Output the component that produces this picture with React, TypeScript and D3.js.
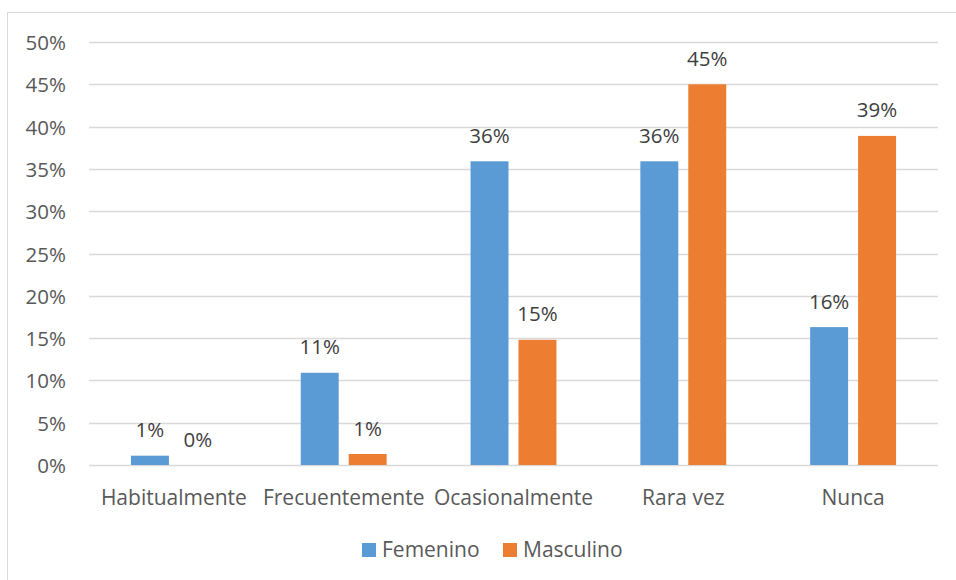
import { useEffect, useRef } from "react"
import * as d3 from "d3"

const categories = ["Habitualmente", "Frecuentemente", "Ocasionalmente", "Rara vez", "Nunca"]
const seriesNames = ["Femenino", "Masculino"]
const femenino = [1.1, 10.9, 35.9, 35.9, 16.3]
const masculino = [0, 1.3, 14.8, 45.0, 38.9]
const yTicks = [0, 5, 10, 15, 20, 25, 30, 35, 40, 45, 50]
const colors = ["#5B9BD5", "#ED7D31"]

export default function App() {
  const svgRef = useRef<SVGSVGElement>(null)

  useEffect(() => {
    if (!svgRef.current) return
    const svg = d3.select(svgRef.current)
    svg.selectAll("*").remove()

    const width = 956
    const height = 580
    const plot = { left: 89, right: 938, top: 42, bottom: 465 }
    const font = "'Open Sans', sans-serif"

    // outer frame
    svg
      .append("rect")
      .attr("x", 7.5)
      .attr("y", 12.5)
      .attr("width", width)
      .attr("height", height)
      .attr("fill", "#fff")
      .attr("stroke", "#d9d9d9")
      .attr("stroke-width", 1)

    const x0 = d3.scaleBand().domain(categories).range([plot.left, plot.right])
    const x1 = d3
      .scaleBand()
      .domain(seriesNames)
      .range([0, x0.bandwidth()])
      .paddingInner(10 / 48)
      .paddingOuter(0.875)
    const y = d3.scaleLinear().domain([0, 50]).range([plot.bottom, plot.top])

    // grid lines
    svg
      .append("g")
      .selectAll("line")
      .data(yTicks)
      .enter()
      .append("line")
      .attr("x1", plot.left)
      .attr("x2", plot.right)
      .attr("y1", (d) => Math.round(y(d)) + 0.5)
      .attr("y2", (d) => Math.round(y(d)) + 0.5)
      .attr("stroke", "#d9d9d9")
      .attr("stroke-width", 1.3)

    // y labels
    svg
      .append("g")
      .selectAll("text")
      .data(yTicks)
      .enter()
      .append("text")
      .attr("x", 66)
      .attr("y", (d) => y(d) + 8)
      .attr("text-anchor", "end")
      .attr("font-family", font)
      .attr("font-size", 20.5)
      .attr("fill", "#595959")
      .text((d) => `${d}%`)

    // bars
    const rows = categories.map((c, i) => ({
      category: c,
      values: [
        { series: seriesNames[0], value: femenino[i] },
        { series: seriesNames[1], value: masculino[i] },
      ],
    }))

    const groups = svg
      .append("g")
      .selectAll("g")
      .data(rows)
      .enter()
      .append("g")
      .attr("transform", (d) => `translate(${x0(d.category)},0)`)

    groups
      .selectAll("rect")
      .data((d) => d.values)
      .enter()
      .append("rect")
      .attr("x", (d) => x1(d.series) || 0)
      .attr("width", x1.bandwidth())
      .attr("y", (d) => y(d.value))
      .attr("height", (d) => plot.bottom - y(d.value))
      .attr("fill", (_, i) => colors[i])

    groups
      .selectAll("text")
      .data((d) => d.values)
      .enter()
      .append("text")
      .attr("x", (d) => (x1(d.series) || 0) + x1.bandwidth() / 2)
      .attr("y", (d) => y(d.value) - 18.5)
      .attr("text-anchor", "middle")
      .attr("font-family", font)
      .attr("font-size", 20.5)
      .attr("fill", "#404040")
      .text((d) => `${Math.round(d.value)}%`)

    // x labels
    svg
      .append("g")
      .selectAll("text")
      .data(categories)
      .enter()
      .append("text")
      .attr("x", (d) => (x0(d) || 0) + x0.bandwidth() / 2)
      .attr("y", 505)
      .attr("text-anchor", "middle")
      .attr("font-family", font)
      .attr("font-size", 21)
      .attr("fill", "#595959")
      .text((d) => d)

    // legend
    const legendX = [362, 503]
    const legend = svg
      .append("g")
      .selectAll("g")
      .data(seriesNames)
      .enter()
      .append("g")
      .attr("transform", (_, i) => `translate(${legendX[i]},543)`)
    legend
      .append("rect")
      .attr("width", 14)
      .attr("height", 14)
      .attr("fill", (_, i) => colors[i])
    legend
      .append("text")
      .attr("x", 20)
      .attr("y", 14)
      .attr("font-family", font)
      .attr("font-size", 21)
      .attr("fill", "#595959")
      .text((d) => d)
  }, [])

  return (
    <div style={{ position: "absolute", left: 0, top: 0, width: 956, height: 580, overflow: "hidden" }}>
      <svg ref={svgRef} width={956} height={580}></svg>
    </div>
  )
}
